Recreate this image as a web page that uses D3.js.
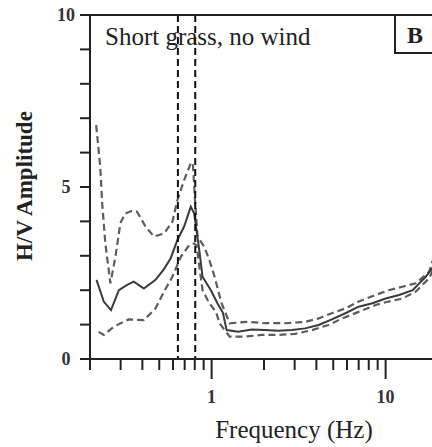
<!DOCTYPE html>
<html>
<head>
<meta charset="utf-8">
<script src="https://cdn.jsdelivr.net/npm/d3@7"></script>
<style>
  body { margin: 0; background: #fff; overflow: hidden; }
  svg { display: block; }
</style>
</head>
<body>
<script>

// mean H/V curve (solid)
var meanCurve = [
  [0.218, 2.30], [0.24, 1.67], [0.264, 1.42], [0.293, 2.0], [0.325, 2.15],
  [0.357, 2.25], [0.408, 2.05], [0.476, 2.30], [0.53, 2.6], [0.582, 2.93],
  [0.636, 3.46], [0.695, 3.85], [0.759, 4.43], [0.794, 4.23], [0.849, 3.17],
  [0.887, 2.39], [0.99, 2.0], [1.08, 1.62], [1.16, 1.35], [1.22, 0.84],
  [1.42, 0.79], [1.70, 0.86], [2.02, 0.84], [2.42, 0.82], [2.89, 0.84],
  [3.45, 0.89], [4.12, 0.99], [4.91, 1.15], [5.87, 1.33], [7.0, 1.52],
  [8.4, 1.62], [10.0, 1.76], [11.96, 1.86], [14.3, 2.0], [17.0, 2.39],
  [18.6, 2.65], [19.6, 3.0]
];

// mean + std (dashed)
var upperCurve = [
  [0.217, 6.8], [0.229, 5.59], [0.235, 4.53], [0.245, 3.36], [0.262, 2.2],
  [0.28, 2.97], [0.299, 3.95], [0.319, 4.23], [0.345, 4.3], [0.373, 4.28],
  [0.417, 3.85], [0.466, 3.56], [0.533, 3.65], [0.595, 3.99], [0.636, 4.62],
  [0.695, 5.2], [0.759, 5.69], [0.78, 5.7], [0.80, 4.72], [0.83, 3.56],
  [0.907, 3.26], [0.97, 2.88], [1.04, 2.39], [1.14, 1.62], [1.27, 1.04],
  [1.62, 1.08], [2.02, 1.04], [2.64, 1.04], [3.45, 1.08], [4.12, 1.18],
  [4.91, 1.33], [5.87, 1.47], [7.0, 1.67], [8.75, 1.86], [10.4, 2.0],
  [12.5, 2.1], [14.9, 2.2], [17.8, 2.54], [19.6, 3.2]
];

// mean - std (dashed)
var lowerCurve = [
  [0.224, 0.79], [0.24, 0.70], [0.274, 0.94], [0.334, 1.15], [0.408, 1.13],
  [0.476, 1.47], [0.533, 1.96], [0.595, 2.39], [0.665, 2.97], [0.743, 3.31],
  [0.794, 3.36], [0.82, 3.3], [0.85, 2.68], [0.887, 2.0], [0.97, 1.62],
  [1.06, 1.37], [1.11, 1.04], [1.27, 0.65], [1.55, 0.65], [1.94, 0.70],
  [2.42, 0.70], [3.02, 0.73], [3.77, 0.84], [4.70, 0.99], [5.62, 1.18],
  [7.0, 1.37], [8.75, 1.57], [10.4, 1.67], [12.5, 1.76], [14.9, 1.96],
  [17.8, 2.35], [19.6, 2.8]
];

// peak frequency bounds (vertical dashed)
var peakLines = [0.64, 0.805];

var xTicksMajor = [1, 10];
var xTicksMinor = [0.2, 0.3, 0.4, 0.5, 0.6, 0.7, 0.8, 0.9, 2, 3, 4, 5, 6, 7, 8, 9, 20];
var yTicks = [0, 1, 2, 3, 4, 5, 6, 7, 8, 9, 10];
var yTickLabels = [0, 5, 10];

var panelTitle = "Short grass, no wind";
var panelLetter = "B";

var width = 432,
    height = 447;

const margin = {top: 15, right: -6, bottom: 88, left: 90};

var x = d3.scaleLog()
    .domain([0.2, 20])
    .range([margin.left, width - margin.right]);

var y = d3.scaleLinear()
    .domain([0, 10])
    .range([height - margin.bottom, margin.top]);

var svg = d3.select("body")
    .append("svg")
    .attr("width", width)
    .attr("height", height);

const serif = "'Liberation Serif', 'DejaVu Serif', serif";

// curves
var line = d3.line()
    .x(function (d) { return x(d[0]); })
    .y(function (d) { return y(d[1]); });

[upperCurve, lowerCurve].forEach(function (c) {
    svg.append("path")
        .datum(c)
        .attr("d", line)
        .attr("fill", "none")
        .attr("stroke", "#5c5c5c")
        .attr("stroke-width", 2.2)
        .attr("stroke-dasharray", "7,4");
});

svg.append("path")
    .datum(meanCurve)
    .attr("d", line)
    .attr("fill", "none")
    .attr("stroke", "#3a3a3a")
    .attr("stroke-width", 2);

// peak frequency lines
svg.selectAll(".peak")
    .data(peakLines)
    .enter().append("line")
    .attr("class", "peak")
    .attr("x1", function (d) { return x(d); })
    .attr("x2", function (d) { return x(d); })
    .attr("y1", y(10))
    .attr("y2", y(0))
    .attr("stroke", "#111")
    .attr("stroke-width", 2)
    .attr("stroke-dasharray", "7,4");

// frame: top, bottom and left lines
svg.append("line")
    .attr("x1", margin.left - 10).attr("x2", width)
    .attr("y1", y(10)).attr("y2", y(10))
    .attr("stroke", "#222").attr("stroke-width", 2);

svg.append("line")
    .attr("x1", margin.left - 10).attr("x2", width)
    .attr("y1", y(0)).attr("y2", y(0))
    .attr("stroke", "#222").attr("stroke-width", 2);

svg.append("line")
    .attr("x1", x(0.2)).attr("x2", x(0.2))
    .attr("y1", y(10)).attr("y2", y(0))
    .attr("stroke", "#222").attr("stroke-width", 2);

// y ticks (outward)
svg.selectAll(".ytick")
    .data(yTicks)
    .enter().append("line")
    .attr("class", "ytick")
    .attr("x1", margin.left - 10)
    .attr("x2", margin.left)
    .attr("y1", function (d) { return y(d); })
    .attr("y2", function (d) { return y(d); })
    .attr("stroke", "#222")
    .attr("stroke-width", 2);

svg.selectAll(".ylab")
    .data(yTickLabels)
    .enter().append("text")
    .attr("class", "ylab")
    .text(function (d) { return d; })
    .attr("x", 66)
    .attr("y", function (d) { return y(d) + 6; })
    .attr("font-family", serif)
    .attr("font-size", "18px")
    .attr("font-weight", "bold")
    .attr("fill", "#333")
    .attr("text-anchor", "middle");

// x ticks (log, downward)
svg.selectAll(".xminor")
    .data(xTicksMinor)
    .enter().append("line")
    .attr("class", "xminor")
    .attr("x1", function (d) { return x(d); })
    .attr("x2", function (d) { return x(d); })
    .attr("y1", y(0))
    .attr("y2", y(0) + 11)
    .attr("stroke", "#222")
    .attr("stroke-width", 2);

svg.selectAll(".xmajor")
    .data(xTicksMajor)
    .enter().append("line")
    .attr("class", "xmajor")
    .attr("x1", function (d) { return x(d); })
    .attr("x2", function (d) { return x(d); })
    .attr("y1", y(0))
    .attr("y2", y(0) + 20)
    .attr("stroke", "#222")
    .attr("stroke-width", 2);

svg.selectAll(".xlab")
    .data(xTicksMajor)
    .enter().append("text")
    .attr("class", "xlab")
    .text(function (d) { return d; })
    .attr("x", function (d) { return x(d); })
    .attr("y", y(0) + 44)
    .attr("font-family", serif)
    .attr("font-size", "18px")
    .attr("font-weight", "bold")
    .attr("fill", "#333")
    .attr("text-anchor", "middle");

// axis titles
svg.append("text")
    .text("Frequency (Hz)")
    .attr("x", 294)
    .attr("y", 438)
    .attr("font-family", serif)
    .attr("font-size", "25px")
    .attr("fill", "#222")
    .attr("text-anchor", "middle");

svg.append("text")
    .text("H/V Amplitude")
    .attr("transform", "translate(32,186) rotate(-90)")
    .attr("font-family", serif)
    .attr("font-size", "23px")
    .attr("font-weight", "bold")
    .attr("fill", "#222")
    .attr("text-anchor", "middle");

// panel title and letter box
svg.append("text")
    .text(panelTitle)
    .attr("x", 105)
    .attr("y", 45)
    .attr("font-family", serif)
    .attr("font-size", "25px")
    .attr("fill", "#222")
    .attr("text-anchor", "start");

svg.append("path")
    .attr("d", "M395," + y(10) + "V53H" + width)
    .attr("fill", "none")
    .attr("stroke", "#222")
    .attr("stroke-width", 2);

svg.append("text")
    .text(panelLetter)
    .attr("x", 415)
    .attr("y", 43)
    .attr("font-family", serif)
    .attr("font-size", "24px")
    .attr("font-weight", "bold")
    .attr("fill", "#222")
    .attr("text-anchor", "middle");

</script>
</body>
</html>
